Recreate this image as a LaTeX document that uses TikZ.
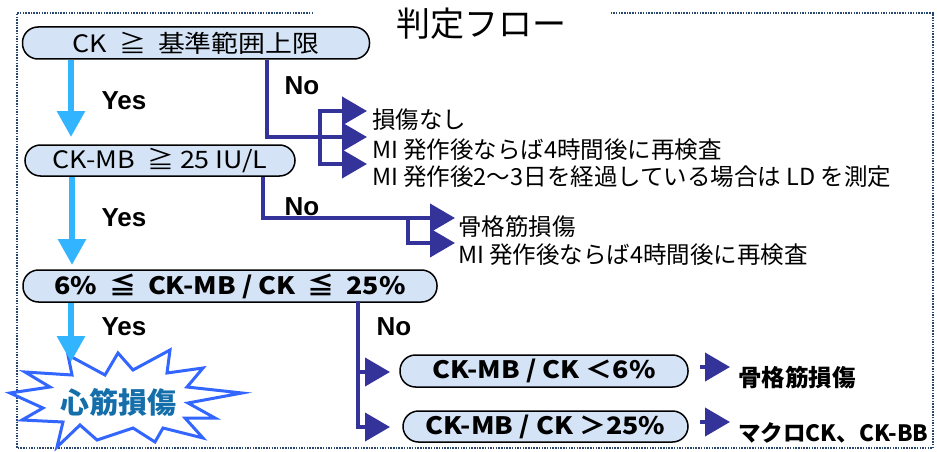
\documentclass[tikz,border=0pt]{standalone}
\usepackage{fontspec}
\setmainfont{Noto Sans CJK JP}
\newfontfamily\boxfont[FakeStretch=1.12]{Noto Sans CJK JP}
\newfontfamily\lat{Liberation Sans}
\usetikzlibrary{arrows.meta}
\definecolor{dkblue}{RGB}{51,51,153}
\definecolor{ltblue}{RGB}{51,180,255}
\definecolor{starblue}{RGB}{51,102,255}
\definecolor{startext}{RGB}{20,110,170}
\definecolor{boxfill}{RGB}{212,227,245}
\definecolor{framecol}{RGB}{40,70,110}
\begin{document}
\begin{tikzpicture}[x=1pt,y=-1pt,
  pill/.style={draw=black, line width=1.5pt, fill=boxfill, rounded corners=15.5pt,
    inner sep=0pt, font=\boxfont\fontsize{24}{24}\selectfont},
  pillb/.style={pill, font=\boxfont\bfseries\fontsize{24}{24}\selectfont},
  yesarrow/.style={ltblue, line width=6pt, -{Triangle[width=27pt,length=26pt]}},
  noline/.style={dkblue, line width=4pt, line cap=rect},
  noarrow/.style={dkblue, line width=4pt, -{Triangle[width=28pt,length=25pt]}},
  lbl/.style={font=\lat\bfseries\fontsize{26}{26}\selectfont, inner sep=0pt},
  res/.style={anchor=west, inner sep=0pt, font=\fontsize{23.5}{23.5}\selectfont},
  resb/.style={anchor=west, inner sep=0pt, font=\bfseries\fontsize{23.5}{23.5}\selectfont},
  framestyle/.style={framecol, line width=1.5pt, dash pattern=on 1.5pt off 1.2pt}
]
\useasboundingbox (0,0) rectangle (937,452);
\fill[white] (0,0) rectangle (937,452);
% frame
\draw[framestyle] (313,13) -- (17,13) -- (17,448) -- (933,448) -- (933,13) -- (611,13);
\node[inner sep=0pt, font=\fontsize{34}{34}\selectfont] (title) at (481,24) {判定フロー};

% boxes
\node[pill, minimum width=347pt, minimum height=32pt] (b1) at (196,43) {CK\enspace ≧\enspace 基準範囲上限};
\node[pill, minimum width=270pt, minimum height=31pt] (b2) at (160,160.5) {CK-MB\enspace ≧ 25 IU/L};
\node[pillb, minimum width=414pt, minimum height=32pt] (b3) at (230,286) {6\%\enspace ≦\enspace CK-MB / CK\enspace ≦\enspace 25\%};
\node[pillb, minimum width=288pt, minimum height=32pt] (b4) at (544,371) {CK-MB / CK ＜6\%};
\node[pillb, minimum width=285pt, minimum height=31pt] (b5) at (545.5,426.5) {CK-MB / CK ＞25\%};

% result texts
\node[res] (t1) at (372,120) {損傷なし};
\node[res] (t2) at (372,150) {MI 発作後ならば4時間後に再検査};
\node[res] (t3) at (372,177) {MI 発作後2～3日を経過している場合は LD を測定};
\node[res] (t4) at (458,227) {骨格筋損傷};
\node[res] (t5) at (458,255) {MI 発作後ならば4時間後に再検査};
\node[resb] (t6) at (738,378) {骨格筋損傷};
\node[resb, font=\bfseries\fontsize{22.5}{22.5}\selectfont] (t7) at (738,433) {マクロCK、CK-BB};

% labels
\node[lbl] (yes1) at (124,101) {Yes};
\node[lbl] (yes2) at (124,218) {Yes};
\node[lbl] (yes3) at (124,327) {Yes};
\node[lbl] (no1) at (302,86) {No};
\node[lbl] (no2) at (302,207) {No};
\node[lbl] (no3) at (394,327) {No};

% starburst
\draw[starblue, line width=3pt, fill=white, line join=miter]
  (10,393) -- (50,387) -- (25,372) -- (72,375) -- (68,355) -- (105,375) -- (118,353)
  -- (133,370) -- (170,350) -- (167,373) -- (203,368) -- (187,387) -- (242,393)
  -- (188,403) -- (215,418) -- (185,418) -- (203,438) -- (163,428) -- (155,442)
  -- (133,428) -- (97,440) -- (80,425) -- (57,447) -- (63,422) -- (22,420) -- (43,408) -- cycle;
\node[inner sep=0pt, text=startext, font=\bfseries\fontsize{29}{29}\selectfont] (star) at (118,402) {心筋損傷};

% yes arrows
\coordinate (ty1) at (71,137);
\coordinate (ty2) at (72,265);
\coordinate (ty3) at (71,362);
\draw[yesarrow] (b1.south -| ty1) -- (ty1);
\draw[yesarrow] (b2.south -| ty2) -- (ty2);
\draw[yesarrow] (b3.south -| ty3) -- (ty3);

% no branch 1
\coordinate (n1) at (267,137);
\coordinate (n1b) at (320,137);
\coordinate (a11) at (367,111);
\coordinate (a12) at (367,137);
\coordinate (a13) at (367,164);
\draw[noline] (n1b |- a11) -- (n1b |- a13);
\draw[noarrow] (b1.south -| n1) -- (n1) -- (a12);
\draw[noarrow] (n1b |- a11) -- (a11);
\draw[noarrow] (n1b |- a13) -- (a13);

% no branch 2
\coordinate (n2) at (263,218);
\coordinate (n2b) at (408,218);
\coordinate (a21) at (455,218);
\coordinate (a22) at (455,243);
\draw[noline] (n2b) -- (n2b |- a22);
\draw[noarrow] (b2.south -| n2) -- (n2) -- (a21);
\draw[noarrow] (n2b |- a22) -- (a22);

% no branch 3
\coordinate (n3) at (358,427);
\coordinate (a31) at (390,372);
\coordinate (a32) at (390,427);
\draw[noline] (b3.south -| n3) -- (n3);
\draw[noarrow] (n3 |- a31) -- (a31);
\draw[noarrow] (n3) -- (a32);

% final arrows
\coordinate (c41) at (700,367);
\coordinate (c42) at (730,367);
\coordinate (c51) at (700,422);
\coordinate (c52) at (730,422);
\draw[noarrow] (c41) -- (c42);
\draw[noarrow] (c51) -- (c52);
\end{tikzpicture}
\end{document}
